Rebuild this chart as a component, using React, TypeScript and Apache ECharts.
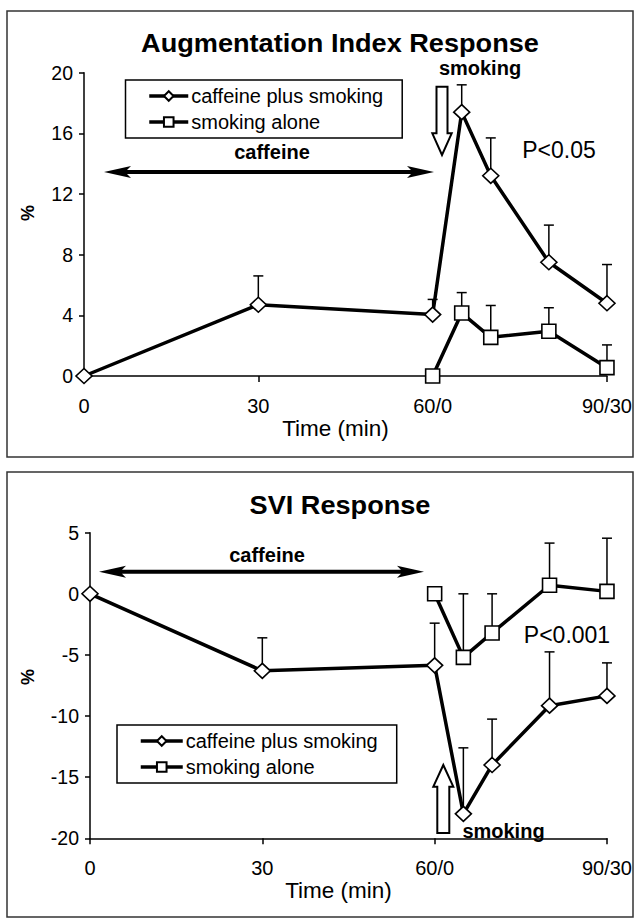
import React, { useEffect, useRef } from "react";
import * as echarts from "echarts";

// ---- data ----
const xTickValues = [0, 30, 60, 90];
const xTickLabels = ["0", "30", "60/0", "90/30"];
const seriesNames = ["caffeine plus smoking", "smoking alone"];

const caffeineTimes = [0, 30, 60, 65, 70, 80, 90];
const smokingTimes = [60, 65, 70, 80, 90];

// Augmentation Index (%)
const aiCaffeine = [0, 4.7, 4.05, 17.4, 13.2, 7.5, 4.8];
const aiCaffeineUpper = [null, 6.6, 5.05, 19.2, 15.7, 9.95, 7.35];
const aiSmoking = [0, 4.15, 2.55, 2.95, 0.55];
const aiSmokingUpper = [null, 5.5, 4.65, 4.5, 2.05];

// SVI (%)
const sviCaffeine = [0, -6.3, -5.85, -18.0, -14.0, -9.15, -8.35];
const sviCaffeineUpper = [null, -3.6, -2.4, -12.6, -10.25, -4.75, -5.65];
const sviSmoking = [0, -5.2, -3.2, 0.7, 0.2];
const sviSmokingUpper = [null, 0, 0, 4.15, 4.55];

const FONT = '"Liberation Sans", Arial, Helvetica, sans-serif';

function pairs(t: number[], v: number[]) {
  return t.map((x, i) => [x, v[i]]);
}
function errData(t: number[], v: number[], u: (number | null)[]) {
  const out: number[][] = [];
  t.forEach((x, i) => {
    if (u[i] !== null && u[i] !== undefined) out.push([x, v[i], u[i] as number]);
  });
  return out;
}

function errorRender(params: any, api: any) {
  const x = api.value(0);
  const y = api.value(1);
  const top = api.value(2);
  const p0 = api.coord([x, y]);
  const p1 = api.coord([x, top]);
  const st = { stroke: "#000", lineWidth: 1.5 };
  return {
    type: "group",
    children: [
      { type: "line", shape: { x1: p0[0], y1: p0[1], x2: p1[0], y2: p1[1] }, style: st },
      { type: "line", shape: { x1: p1[0] - 5, y1: p1[1], x2: p1[0] + 5, y2: p1[1] }, style: st },
    ],
  };
}

function dblArrow(x1: number, x2: number, y: number) {
  const hl = 27, hh = 6, sh = 2;
  return {
    type: "polygon",
    shape: {
      points: [
        [x1, y], [x1 + hl, y - hh], [x1 + hl - 4, y - sh], [x2 - hl + 4, y - sh], [x2 - hl, y - hh],
        [x2, y], [x2 - hl, y + hh], [x2 - hl + 4, y + sh], [x1 + hl - 4, y + sh], [x1 + hl, y + hh],
      ],
    },
    style: { fill: "#000" },
    z: 10,
  };
}

function hollowArrow(cx: number, y0: number, yb: number, yt: number, sw: number, hw: number) {
  return {
    type: "polygon",
    shape: {
      points: [
        [cx - sw, y0], [cx + sw, y0], [cx + sw, yb], [cx + hw, yb], [cx, yt], [cx - hw, yb], [cx - sw, yb],
      ],
    },
    style: { fill: "#fff", stroke: "#000", lineWidth: 2 },
    z: 10,
  };
}

function txt(text: string, x: number, y: number, size: number, bold = false, rotation = 0, scaleX = 1) {
  return {
    type: "text",
    x,
    y,
    rotation,
    scaleX,
    z: 11,
    style: {
      text,
      fill: "#000",
      fontSize: size,
      fontWeight: bold ? "bold" : "normal",
      fontFamily: FONT,
      align: "center",
      verticalAlign: "middle",
    },
  };
}

const lineSeries = (name: string, symbol: string, size: any, data: any, idx: number) => ({
  type: "line",
  name,
  xAxisIndex: idx,
  yAxisIndex: idx,
  data,
  symbol,
  symbolSize: size,
  showAllSymbol: true,
  lineStyle: { color: "#000", width: 3.5 },
  itemStyle: { color: "#fff", borderColor: "#000", borderWidth: 1.6 },
  z: 3,
});

const errSeries = (data: any, idx: number) => ({
  type: "custom",
  xAxisIndex: idx,
  yAxisIndex: idx,
  renderItem: errorRender,
  data,
  encode: { x: 0, y: [1, 2] },
  z: 1,
  silent: true,
});

const xAxisBase = (gi: number) => ({
  type: "value",
  gridIndex: gi,
  min: 0,
  max: 90,
  interval: 30,
  axisLine: { onZero: false, lineStyle: { color: "#000", width: 1.5 } },
  axisTick: { show: true, length: 6, lineStyle: { color: "#000", width: 1.5 } },
  splitLine: { show: false },
  axisLabel: {
    color: "#000",
    fontSize: 20,
    fontFamily: FONT,
    margin: 20,
    formatter: (v: number) => {
      const i = xTickValues.indexOf(v);
      return i >= 0 ? xTickLabels[i] : "";
    },
  },
  name: "Time (min)",
  nameLocation: "middle",
  nameGap: 40,
  nameTextStyle: { color: "#000", fontSize: 22.5, fontFamily: FONT, padding: [0, 20, 0, 0], verticalAlign: "top" },
});

const yAxisBase = (gi: number, min: number, max: number, interval: number) => ({
  type: "value",
  gridIndex: gi,
  min,
  max,
  interval,
  axisLine: { show: true, onZero: false, lineStyle: { color: "#000", width: 1.5 } },
  axisTick: { show: true, length: 5, lineStyle: { color: "#000", width: 1.5 } },
  splitLine: { show: false },
  axisLabel: { color: "#000", fontSize: 19.5, fontFamily: FONT, margin: 11 },
});

const legendBase = (left: number, top: number, iw: number) => ({
  show: true,
  data: seriesNames,
  orient: "vertical",
  left,
  top,
  itemWidth: iw,
  itemHeight: 12,
  itemGap: 6,
  padding: [6, 19, 6, 22],
  borderColor: "#000",
  borderWidth: 1.5,
  selectedMode: false,
  lineStyle: { width: 3.5 },
  textStyle: { color: "#000", fontSize: 20, fontFamily: FONT, padding: [0, 0, 0, -2] },
});

export default function App() {
  const ref = useRef<HTMLDivElement>(null);

  useEffect(() => {
    if (!ref.current) return;
    const chart = echarts.init(ref.current, null, { renderer: "svg" });
    const option: any = {
      animation: false,
      backgroundColor: "#fff",
      textStyle: { fontFamily: FONT },
      grid: [
        { left: 84, right: 24, top: 72.7, bottom: 544 },
        { left: 90, right: 23, top: 532.7, bottom: 81.7 },
      ],
      xAxis: [xAxisBase(0), xAxisBase(1)],
      yAxis: [yAxisBase(0, 0, 20, 4), yAxisBase(1, -20, 5, 5)],
      legend: [legendBase(125.5, 80, 39), legendBase(117, 725, 42)],
      series: [
        errSeries(errData(caffeineTimes, aiCaffeine, aiCaffeineUpper), 0),
        errSeries(errData(smokingTimes, aiSmoking, aiSmokingUpper), 0),
        lineSeries(seriesNames[0], "diamond", [16, 15], pairs(caffeineTimes, aiCaffeine), 0),
        lineSeries(seriesNames[1], "rect", 14, pairs(smokingTimes, aiSmoking), 0),
        errSeries(errData(caffeineTimes, sviCaffeine, sviCaffeineUpper), 1),
        errSeries(errData(smokingTimes, sviSmoking, sviSmokingUpper), 1),
        lineSeries(seriesNames[0], "diamond", [16, 15], pairs(caffeineTimes, sviCaffeine), 1),
        lineSeries(seriesNames[1], "rect", 14, pairs(smokingTimes, sviSmoking), 1),
      ],
      graphic: [
        { type: "rect", shape: { x: 7, y: 11, width: 626, height: 446 }, style: { fill: "none", stroke: "#333", lineWidth: 1.5 } },
        { type: "rect", shape: { x: 7, y: 472, width: 626, height: 445 }, style: { fill: "none", stroke: "#333", lineWidth: 1.5 } },
        txt("Augmentation Index Response", 340, 43, 25, true, 0, 1.085),
        txt("SVI Response", 340, 505, 25, true, 0, 1.085),
        txt("%", 27.5, 213, 18, true, Math.PI / 2),
        txt("%", 27.5, 677, 18, true, Math.PI / 2),
        txt("caffeine", 272, 152, 20, true),
        txt("caffeine", 267, 555, 20, true),
        dblArrow(104, 434, 172),
        dblArrow(99, 424, 571.7),
        txt("smoking", 480, 68, 20, true),
        hollowArrow(442, 86.7, 133.3, 155, 5.5, 9.7),
        hollowArrow(443.3, 833, 786.7, 765, 6, 10),
        txt("smoking", 503.5, 831, 20, true),
        txt("P<0.05", 559, 150, 23),
        txt("P<0.001", 567, 635, 23),
      ],
    };
    chart.setOption(option);
    return () => chart.dispose();
  }, []);

  return (
    <div
      ref={ref}
      style={{ position: "absolute", left: 0, top: 0, width: 635, height: 920, background: "#fff" }}
    />
  );
}
